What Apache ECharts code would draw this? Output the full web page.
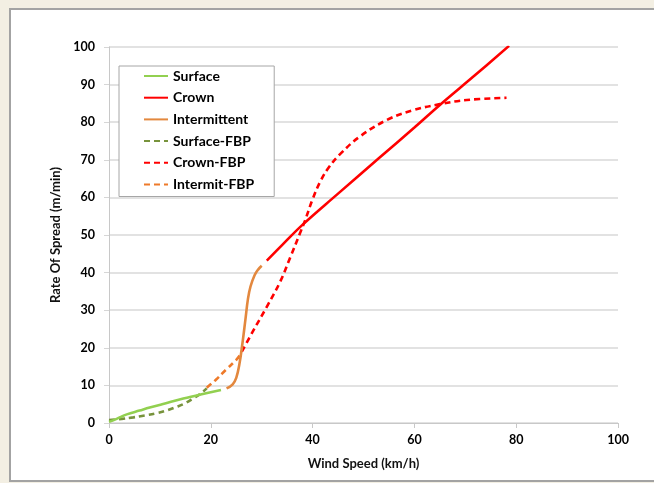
<!DOCTYPE html>
<html>
<head>
<meta charset="utf-8">
<script src="https://cdn.jsdelivr.net/npm/echarts@6/dist/echarts.min.js"></script>
<style>
html,body{margin:0;padding:0;width:654px;height:483px;background:#f3efe3;overflow:hidden;}
#panel{position:absolute;left:9px;top:8px;width:700px;height:470px;background:#fff;border:2px solid #a3a3a3;border-right:none;}
#chart{position:absolute;left:0;top:0;width:654px;height:483px;}
</style>
</head>
<body>
<div id="panel"></div>
<div id="chart"></div>
<script>
const xTicks = [0, 20, 40, 60, 80, 100];
const yTicks = [0, 10, 20, 30, 40, 50, 60, 70, 80, 90, 100];

const surface = [[0,0.3],[1.5,1.1],[3.5,2.3],[6,3.3],[8,4.1],[11,5.2],[14.6,6.5],[18,7.6],[22,8.8]];
const crown = [[31,43.2],[34,47.3],[38,52.7],[45,61],[53,70.4],[60,78.6],[65,84.6],[72,92.6],[78.6,100.3]];
const intermittent = [[23.1,9.2],[24.3,10.3],[25,12],[25.6,15.5],[26.2,21],[26.8,27.5],[27.3,33],[27.8,36.3],[28.6,39.3],[29.3,40.8],[30,41.8]];
const surfaceFBP = [[0,0.8],[2.5,1.1],[4.8,1.5],[7,2],[9.4,2.6],[11.5,3.4],[13.3,4.3],[15,5.3],[16.6,6.6],[18,7.8],[19.2,9.2]];
const crownFBP = [[26.1,19],[28.4,24.7],[31,30.9],[33.6,37.5],[35.6,44],[37.5,50.4],[38.5,53.8],[40,59.5],[41.5,64.2],[43.2,68],[45.4,71.5],[49.3,76.2],[54.6,80.6],[59.8,83.2],[65,84.8],[70.3,85.9],[78.1,86.5]];
const intermitFBP = [[19.2,9.4],[21,11.5],[23,14.2],[25,16.8],[26.1,18.7]];

const seriesNames = ['Surface','Crown','Intermittent','Surface-FBP','Crown-FBP','Intermit-FBP'];
const seriesData = [surface, crown, intermittent, surfaceFBP, crownFBP, intermitFBP];
const seriesColors = ['#92d050','#ff0000','#e3883e','#77933c','#ff0000','#ee7a2a'];
const seriesDash = ['solid','solid','solid','dashed','dashed','dashed'];

const FONT = 'Lato, "Open Sans", sans-serif';
const chart = echarts.init(document.getElementById('chart'), null, {renderer:'canvas'});

chart.setOption({
  backgroundColor: 'transparent',
  animation: false,
  grid: {left:109, right:36, top:47, bottom:60, containLabel:false},
  legend: {
    orient: 'vertical',
    left: 119, top: 66,
    padding: [3, 20, 5, 24],
    itemWidth: 24, itemHeight: 14, itemGap: 7.7,
    borderColor: '#a6a6a6', borderWidth: 1,
    backgroundColor: '#fff',
    itemStyle: {opacity: 0},
    textStyle: {fontFamily: FONT, fontWeight: 'bold', fontSize: 14, color: '#000'},
    data: seriesNames
  },
  xAxis: {
    type: 'value', min: 0, max: 100, interval: 20,
    name: 'Wind Speed (km/h)', nameLocation: 'middle', nameGap: 34,
    nameTextStyle: {fontFamily: FONT, fontWeight: 'bold', fontSize: 13, color: '#111'},
    axisLine: {show: true, lineStyle: {color: '#c8c8c8', width: 1}},
    axisTick: {show: true, length: 5, lineStyle: {color: '#c8c8c8'}},
    axisLabel: {margin: 10, fontFamily: FONT, fontWeight: 'bold', fontSize: 12.5, color: '#000',
      formatter: v => xTicks.includes(v) ? String(v) : ''},
    splitLine: {show: false}
  },
  yAxis: {
    type: 'value', min: 0, max: 100, interval: 10,
    name: 'Rate Of Spread (m/min)', nameLocation: 'middle', nameGap: 42,
    nameTextStyle: {fontFamily: FONT, fontWeight: 'bold', fontSize: 13, color: '#111'},
    axisLine: {show: true, lineStyle: {color: '#c8c8c8', width: 1}},
    axisTick: {show: true, length: 5, lineStyle: {color: '#d6d6d6'}},
    axisLabel: {margin: 14, fontFamily: FONT, fontWeight: 'bold', fontSize: 12.5, color: '#000',
      formatter: v => yTicks.includes(v) ? String(v) : ''},
    splitLine: {show: true, lineStyle: {color: '#d9d9d9', width: 1.5}}
  },
  series: seriesNames.map((n, i) => ({
    name: n,
    type: 'line',
    data: seriesData[i],
    smooth: 0.4,
    showSymbol: false,
    symbol: 'none',
    clip: true,
    color: seriesColors[i],
    lineStyle: {color: seriesColors[i], width: 2.6, type: seriesDash[i] === 'dashed' ? [6, 4] : 'solid'},
    z: i < 3 ? 3 : 2
  }))
});
</script>
</body>
</html>
